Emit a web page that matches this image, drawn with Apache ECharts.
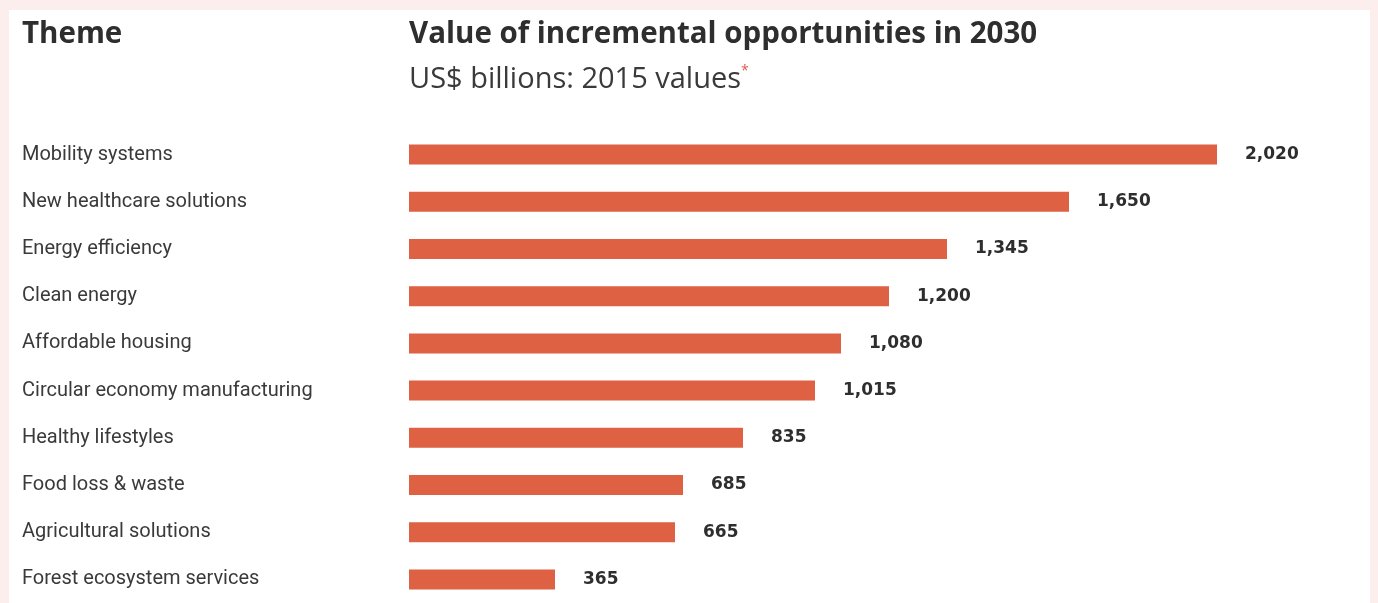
<!DOCTYPE html>
<html>
<head>
<meta charset="utf-8">
<script src="https://cdn.jsdelivr.net/npm/echarts@6/dist/echarts.min.js"></script>
<style>
  html, body {
    margin: 0;
    padding: 0;
    background: #fdeeee;
  }

  #chart {
    width: 1378px;
    height: 603px;
  }
</style>
</head>
<body>
<div id="chart"></div>
<script>
// themes, top to bottom
const themes = [
  'Mobility systems',
  'New healthcare solutions',
  'Energy efficiency',
  'Clean energy',
  'Affordable housing',
  'Circular economy manufacturing',
  'Healthy lifestyles',
  'Food loss & waste',
  'Agricultural solutions',
  'Forest ecosystem services'
]
// US$ billions, 2015 values
const values = [2020, 1650, 1345, 1200, 1080, 1015, 835, 685, 665, 365]

const barColor = '#dd6142'
const textColor = '#2e2e2e'

const chart = echarts.init(document.getElementById('chart'))
const option = {
  backgroundColor: '#fdeeee',
  animation: false,
  graphic: [{
    type: 'rect',
    z: -10,
    shape: { x: 9, y: 10, width: 1361, height: 600 },
    style: { fill: '#ffffff' }
  }],
  title: [{
    text: 'Theme',
    left: 22,
    top: 19,
    padding: 0,
    textStyle: {
      fontFamily: 'Open Sans',
      fontWeight: 'bold',
      fontSize: 29.5,
      lineHeight: 32,
      color: textColor
    }
  }, {
    text: 'Value of incremental opportunities in 2030',
    left: 409,
    top: 19,
    padding: 0,
    textStyle: {
      fontFamily: 'Open Sans',
      fontWeight: 'bold',
      fontSize: 29.5,
      lineHeight: 32,
      color: textColor
    }
  }, {
    text: 'US$ billions: 2015 values{star|*}',
    left: 409,
    top: 64,
    padding: 0,
    textStyle: {
      fontFamily: 'Open Sans',
      fontWeight: 'normal',
      fontSize: 29,
      lineHeight: 32,
      color: '#3a3a3a',
      rich: {
        star: {
          fontFamily: 'Open Sans',
          fontSize: 14,
          color: '#e05a4a',
          verticalAlign: 'top',
          lineHeight: 32
        }
      }
    }
  }],
  grid: {
    left: 409,
    top: 131,
    width: 960,
    height: 480,
    containLabel: false
  },
  xAxis: {
    type: 'value',
    min: 0,
    max: 2400,
    show: false,
    splitLine: { show: false }
  },
  yAxis: {
    type: 'category',
    inverse: true,
    data: themes,
    axisLine: { show: false },
    axisTick: { show: false },
    axisLabel: {
      align: 'left',
      margin: 387,
      fontFamily: 'Roboto',
      fontSize: 20,
      color: '#3a3a3a',
      padding: [0, 0, 4, 0]
    }
  },
  series: [{
    type: 'bar',
    data: values,
    barWidth: 20,
    itemStyle: { color: barColor },
    label: {
      show: true,
      position: 'right',
      distance: 28,
      fontFamily: 'DejaVu Sans',
      fontWeight: 'bold',
      fontSize: 17,
      color: textColor,
      formatter: p => p.value.toLocaleString('en-US')
    }
  }]
}
chart.setOption(option)
</script>
</body>
</html>
